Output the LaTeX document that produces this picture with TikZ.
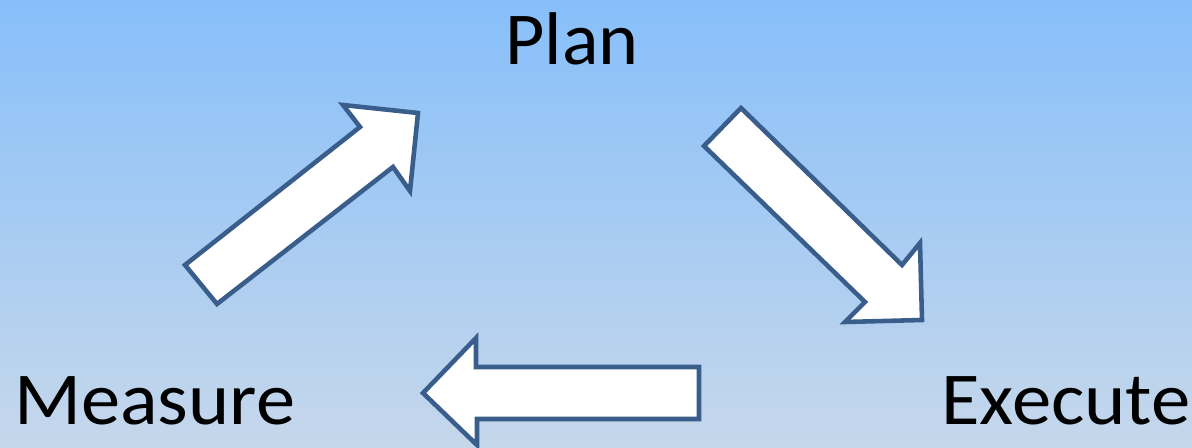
\documentclass[tikz,border=0pt]{standalone}
\usepackage{fontspec}
\setmainfont{Carlito}
\definecolor{bgtop}{HTML}{87BFFA}
\definecolor{bgbot}{HTML}{C6D7EB}
\definecolor{edge}{HTML}{3A5E8C}
\begin{document}
\begin{tikzpicture}[x=0.02cm,y=-0.02cm,
  blockarrow/.style={draw=edge,fill=white,line width=2.6pt,line join=miter},
  label/.style={inner sep=0pt,font=\fontsize{42.5}{50}\selectfont,text=black}]
\shade[top color=bgtop,bottom color=bgbot] (0,0) rectangle (1192,448);
\useasboundingbox (0,0) rectangle (1192,448);
% Measure -> Plan
\draw[blockarrow] (185,265) -- (360,127) -- (343,105) -- (418,113) -- (410,191) -- (393,167) -- (217,304) -- cycle;
% Plan -> Execute
\draw[blockarrow] (741,108) -- (902,265) -- (920,243) -- (922,320) -- (845,322) -- (865,302) -- (704,146) -- cycle;
% Execute -> Measure
\draw[blockarrow] (423,393) -- (476,338) -- (476,367) -- (699,367) -- (699,419) -- (477,419) -- (477,445) -- cycle;
\node[label,anchor=base] (plan) at (572,65) {\scalebox{1.02}[1]{Plan}};
\node[label,anchor=base west] (measure) at (14,425) {\scalebox{1.05}[1]{Measure}};
\node[label,anchor=base east] (execute) at (1191,425) {\scalebox{1.055}[1]{Execute}};
\end{tikzpicture}
\end{document}
